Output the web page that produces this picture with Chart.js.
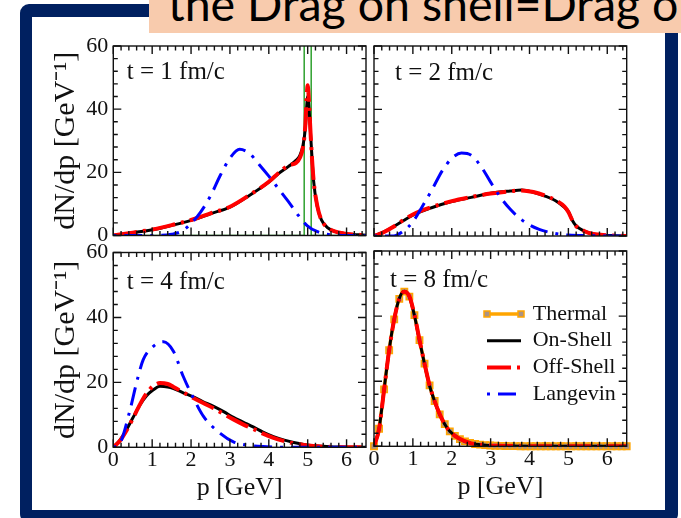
<!DOCTYPE html>
<html>
<head>
<meta charset="utf-8">
<script src="https://cdn.jsdelivr.net/npm/chart.js@4.4.1/dist/chart.umd.min.js"></script>
<style>
  html, body { margin: 0; padding: 0; background: #fff; width: 681px; height: 518px; overflow: hidden; position: relative; }
  .frame { position: absolute; left: 20px; top: 4px; width: 658px; height: 519px; box-sizing: border-box;
           border-style: solid; border-color: #002060; border-width: 13px 13px 13px 12px; border-radius: 9px; background: #fff; }
  .banner { position: absolute; left: 149px; top: -10px; width: 540px; height: 43.3px; background: #f8cbad; overflow: hidden; }
  .banner span { position: absolute; left: 19px; top: -10.5px; font-family: Lato, sans-serif; font-size: 46.5px; line-height: 46.5px;
                 color: #000; white-space: nowrap; }
  canvas { position: absolute; left: 0; top: 0; }
</style>
</head>
<body>
<div class="frame"></div>
<div class="banner"><span>the Drag on shell=Drag of</span></div>
<canvas id="c1" width="681" height="518"></canvas>
<canvas id="c2" width="681" height="518"></canvas>
<canvas id="c3" width="681" height="518"></canvas>
<canvas id="c4" width="681" height="518"></canvas>
<script>
// ---- tick labels ----
const xTickLabels = [0, 1, 2, 3, 4, 5, 6];
const yTickLabels = [0, 20, 40, 60];
const seriesNames = ['Thermal', 'On-Shell', 'Off-Shell', 'Langevin'];
const panelTitles = ['t = 1 fm/c', 't = 2 fm/c', 't = 4 fm/c', 't = 8 fm/c'];

// ---- t = 1 fm/c ----
const pT1 =        [0, 0.5, 1, 1.5, 2, 2.5, 3, 3.5, 4, 4.25, 4.5, 4.7, 4.8, 4.88, 4.94, 4.97, 5.0, 5.03, 5.08, 5.15, 5.25, 5.35, 5.5, 5.7, 6.0, 6.5];
const onShellT1 =  [0, 0.9, 1.8, 3.2, 4.8, 6.9, 9.0, 12.7, 16.9, 19.6, 21.8, 23.8, 25.4, 28.6, 34.0, 40.0, 44.0, 41.0, 31.0, 17.5, 9.0, 5.0, 2.6, 1.3, 0.5, 0.1];
const offShellT1 = [0, 0.9, 1.9, 3.3, 4.9, 7.0, 9.1, 12.8, 17.0, 19.8, 22.2, 23.0, 24.6, 28.0, 35.0, 43.0, 47.6, 43.0, 31.0, 17.8, 9.2, 5.0, 2.6, 1.3, 0.5, 0.1];
const pLangT1 =    [0, 1.0, 1.5, 1.75, 2.0, 2.25, 2.5, 2.75, 3.0, 3.25, 3.5, 3.75, 4.0, 4.25, 4.5, 4.75, 5.0, 5.25, 5.5, 6.0, 6.5];
const langevinT1 = [0, 0, 0.4, 1.3, 3.8, 7.5, 12.5, 19.0, 24.5, 27.3, 26.0, 22.5, 18.8, 14.8, 10.8, 6.5, 3.0, 1.2, 0.4, 0, 0];
const pInitT1 =    [0, 4.91, 4.91, 5.09, 5.09, 6.5];
const initialT1 =  [0, 0, 80, 80, 0, 0];

// ---- t = 2 fm/c ----
const pT2 =        [0, 0.25, 0.5, 0.75, 1, 1.5, 2, 2.5, 3, 3.5, 3.8, 4.1, 4.4, 4.7, 4.9, 5.0, 5.1, 5.2, 5.4, 5.6, 5.9, 6.2, 6.5];
const onShellT2 =  [0, 1.3, 2.9, 4.8, 6.6, 9.0, 10.9, 12.2, 13.5, 14.2, 14.5, 13.8, 12.6, 10.9, 9.0, 7.7, 5.0, 3.2, 1.6, 0.7, 0.2, 0.1, 0];
const offShellT2 = [0, 1.2, 2.9, 5.0, 6.8, 9.2, 11.0, 12.3, 13.4, 14.1, 14.4, 13.9, 12.8, 11.1, 9.3, 7.6, 5.0, 3.1, 1.6, 0.7, 0.3, 0.1, 0];
const pLangT2 =    [0, 0.5, 0.75, 1.0, 1.25, 1.5, 1.75, 2.0, 2.25, 2.5, 2.75, 3.0, 3.25, 3.5, 3.75, 4.0, 4.25, 4.5, 4.75, 5.0, 5.5, 6.5];
const langevinT2 = [0, 0, 1.5, 4.5, 9.5, 14.8, 20.5, 24.5, 26.2, 25.5, 22.0, 17.0, 12.3, 8.5, 5.6, 3.5, 2.1, 1.2, 0.6, 0.3, 0.1, 0];

// ---- t = 4 fm/c ----
const pT4 =        [0, 0.17, 0.34, 0.5, 0.69, 0.85, 1.03, 1.2, 1.4, 1.55, 1.8, 2.06, 2.3, 2.58, 2.85, 3.09, 3.35, 3.61, 3.85, 4.12, 4.4, 4.64, 4.9, 5.15, 5.4, 5.67, 6.0, 6.5];
const onShellT4 =  [0, 2.2, 5.4, 9.0, 13.1, 15.8, 17.7, 18.8, 18.6, 18.1, 16.8, 15.5, 14.1, 12.6, 10.9, 9.2, 7.7, 6.2, 4.7, 3.3, 2.2, 1.5, 0.9, 0.5, 0.3, 0.1, 0.05, 0];
const offShellT4 = [0, 2.0, 5.2, 8.8, 13.3, 16.5, 18.9, 19.8, 19.5, 18.6, 16.9, 15.2, 13.7, 12.0, 10.2, 8.6, 7.0, 5.6, 4.2, 2.9, 1.9, 1.2, 0.7, 0.4, 0.2, 0.1, 0, 0];
const pLangT4 =    [0, 0.17, 0.43, 0.6, 0.77, 1.03, 1.29, 1.55, 1.8, 2.06, 2.32, 2.75, 3.09, 3.43, 3.95, 4.5, 6.5];
const langevinT4 = [0, 1.2, 11.5, 20.0, 27.0, 31.1, 32.5, 29.5, 21.8, 15.2, 9.5, 4.3, 1.7, 0.7, 0.2, 0, 0];

// ---- t = 8 fm/c ----
const pT8 = [0, 0.13, 0.26, 0.39, 0.52, 0.65, 0.78, 0.91, 1.04, 1.17, 1.30, 1.43, 1.56, 1.69, 1.82, 1.95, 2.08,
             2.21, 2.34, 2.47, 2.60, 2.73, 2.86, 2.99, 3.12, 3.25, 3.38, 3.51, 3.64, 3.77, 3.90, 4.03, 4.16,
             4.29, 4.42, 4.55, 4.68, 4.81, 4.94, 5.07, 5.20, 5.33, 5.46, 5.59, 5.72, 5.85, 5.98, 6.11, 6.24, 6.37, 6.50];
const thermalT8 = [0, 5.4, 17.5, 29.5, 39.0, 45.3, 47.5, 46.0, 40.3, 32.6, 25.4, 18.7, 13.9, 9.8, 6.8, 4.6, 3.2,
                   2.2, 1.5, 1.0, 0.7, 0.5, 0.35, 0.25, 0.17, 0.12, 0.08, 0.05, 0.04, 0.03, 0.02, 0.01, 0.01,
                   0.01, 0, 0, 0, 0, 0, 0, 0, 0, 0, 0, 0, 0, 0, 0, 0, 0, 0];
const pCurveT8 =   [0, 0.13, 0.26, 0.39, 0.52, 0.65, 0.78, 0.91, 1.04, 1.17, 1.30, 1.43, 1.56, 1.69, 1.82, 1.95, 2.2, 2.5, 2.8, 3.2, 4.0, 5.0, 6.5];
const onShellT8 =  [0, 5.4, 17.6, 29.6, 39.1, 45.4, 47.6, 46.0, 40.2, 32.5, 25.3, 18.6, 13.8, 9.8, 6.8, 4.6, 2.3, 0.9, 0.4, 0.15, 0.02, 0, 0];
const offShellT8 = [0, 5.3, 17.4, 29.5, 39.0, 45.3, 47.5, 46.1, 40.4, 32.7, 25.4, 18.7, 13.9, 9.9, 6.8, 4.6, 2.3, 0.9, 0.4, 0.15, 0.02, 0, 0];

function pts(xs, ys) { return xs.map((x, i) => ({ x: x, y: ys[i] })); }

const FONT = 'Liberation Serif';
const INK = '#111';

const style = {
  thermal:  { borderColor: '#ffa500', borderWidth: 3.5, pointStyle: 'rect', pointRadius: 4.5,
              pointBackgroundColor: '#ab9383', pointBorderColor: '#ffa500', pointBorderWidth: 1.5, clip: 6 },
  onShell:  { borderColor: '#000000', borderWidth: 3, pointRadius: 0, borderDash: [] },
  offShell: { borderColor: '#ff0000', borderWidth: 4, pointRadius: 0, borderDash: [24, 6, 3, 6] },
  langevin: { borderColor: '#0000ff', borderWidth: 3, pointRadius: 0, borderDash: [3, 8, 18, 8] },
  initial:  { borderColor: '#1f9a1f', borderWidth: 1.4, pointRadius: 0, borderDash: [] }
};

function series(key, xs, ys, extra) {
  return Object.assign({ data: pts(xs, ys), cubicInterpolationMode: 'monotone', fill: false,
                         borderCapStyle: 'butt', borderJoinStyle: 'round' }, style[key], extra || {});
}

// frame, inward ticks on four sides, panel caption and (optionally) the key
const panelDecor = {
  id: 'panelDecor',
  afterDraw(chart, _args, o) {
    const { ctx, chartArea: a } = chart;
    const xs = chart.scales.x, ys = chart.scales.y;
    ctx.save();
    ctx.strokeStyle = INK;
    ctx.lineWidth = 1.4;
    ctx.setLineDash([]);
    ctx.beginPath();
    for (let i = 0; i <= 32; i++) {
      const px = xs.getPixelForValue(i * 0.2);
      const len = i % 5 === 0 ? 8 : 4.5;
      ctx.moveTo(px, a.bottom); ctx.lineTo(px, a.bottom - len);
      ctx.moveTo(px, a.top); ctx.lineTo(px, a.top + len);
    }
    for (let i = 0; i <= 15; i++) {
      const py = ys.getPixelForValue(i * 4);
      const len = i % 5 === 0 ? 8 : 4.5;
      ctx.moveTo(a.left, py); ctx.lineTo(a.left + len, py);
      ctx.moveTo(a.right, py); ctx.lineTo(a.right - len, py);
    }
    ctx.stroke();
    ctx.strokeRect(a.left, a.top, a.right - a.left, a.bottom - a.top);

    ctx.fillStyle = INK;
    ctx.font = '25px "' + FONT + '"';
    ctx.textBaseline = 'alphabetic';
    ctx.textAlign = 'left';
    ctx.fillText(o.caption, a.left + o.capX, a.top + o.capY);

    if (o.key) {
      const k = o.key;
      const keyStyles = [style.thermal, style.onShell, style.offShell, style.langevin];
      ctx.font = '22px "' + FONT + '"';
      ctx.textBaseline = 'middle';
      seriesNames.forEach((name, i) => {
        const s = keyStyles[i];
        const y = a.top + k.top + i * k.gap;
        const x0 = a.left + k.left, x1 = x0 + k.len;
        ctx.save();
        ctx.strokeStyle = s.borderColor;
        ctx.lineWidth = s.borderWidth;
        ctx.lineCap = 'butt';
        ctx.setLineDash(s.borderDash || []);
        ctx.beginPath(); ctx.moveTo(x0, y); ctx.lineTo(x1, y); ctx.stroke();
        if (s.pointStyle === 'rect') {
          ctx.setLineDash([]);
          ctx.fillStyle = s.pointBackgroundColor;
          ctx.strokeStyle = s.pointBorderColor;
          ctx.lineWidth = s.pointBorderWidth;
          [x0, x1].forEach(xx => { ctx.beginPath(); ctx.rect(xx - 3, y - 3, 6, 6); ctx.fill(); ctx.stroke(); });
        }
        ctx.restore();
        ctx.fillStyle = INK;
        ctx.fillText(name, a.left + k.textX, y);
      });
    }
    ctx.restore();
  }
};

function makeChart(id, datasets, cfg) {
  const tickFont = { family: FONT, size: 22 };
  return new Chart(document.getElementById(id), {
    type: 'line',
    data: { datasets: datasets },
    options: {
      responsive: false,
      animation: false,
      devicePixelRatio: 1,
      events: [],
      layout: { padding: cfg.padding },
      plugins: {
        legend: { display: false },
        tooltip: { enabled: false },
        panelDecor: { caption: cfg.caption, capX: cfg.capX, capY: cfg.capY, key: cfg.key || null }
      },
      scales: {
        x: {
          type: 'linear', min: 0, max: 6.5, position: 'bottom',
          display: cfg.showX,
          grid: { display: false, drawTicks: false }, border: { display: false },
          afterBuildTicks: s => { s.ticks = xTickLabels.map(v => ({ value: v })); },
          afterFit: s => { s.height = cfg.showX ? cfg.xHeight : 0; },
          ticks: { autoSkip: false, maxRotation: 0, minRotation: 0, padding: 0, color: INK, font: tickFont },
          title: { display: true, text: 'p [GeV]', padding: 0, color: INK, font: { family: FONT, size: 26 } }
        },
        y: {
          type: 'linear', min: 0, max: 60, position: 'left',
          display: cfg.showY,
          grid: { display: false, drawTicks: false }, border: { display: false },
          afterBuildTicks: s => { s.ticks = yTickLabels.map(v => ({ value: v })); },
          afterFit: s => { s.width = cfg.showY ? cfg.yWidth : 0; },
          ticks: { autoSkip: false, padding: 5, color: INK, font: tickFont },
          title: { display: true, text: 'dN/dp [GeV\u207B\u00B9]', padding: 0, color: INK, font: { family: FONT, size: 30 } }
        }
      }
    },
    plugins: [panelDecor]
  });
}

// first dataset is painted on top
makeChart('c1', [
  series('langevin', pLangT1, langevinT1),
  series('offShell', pT1, offShellT1),
  series('onShell', pT1, onShellT1),
  series('initial', pInitT1, initialT1, { cubicInterpolationMode: 'default', tension: 0 })
], { padding: { left: 48.6, top: 46, right: 315, bottom: 282.5 }, showX: false, showY: true, yWidth: 64.7,
     caption: panelTitles[0], capX: 13.5, capY: 33 });

makeChart('c2', [
  series('langevin', pLangT2, langevinT2),
  series('offShell', pT2, offShellT2),
  series('onShell', pT2, onShellT2)
], { padding: { left: 374, top: 46, right: 54.3, bottom: 282 }, showX: false, showY: false,
     caption: panelTitles[1], capX: 21, capY: 34 });

makeChart('c3', [
  series('langevin', pLangT4, langevinT4),
  series('offShell', pT4, offShellT4),
  series('onShell', pT4, onShellT4)
], { padding: { left: 48.6, top: 252.5, right: 315, bottom: 14.7 }, showX: true, xHeight: 56, showY: true, yWidth: 64.7,
     caption: panelTitles[2], capX: 13.5, capY: 36 });

makeChart('c4', [
  series('offShell', pCurveT8, offShellT8),
  series('onShell', pCurveT8, onShellT8),
  series('thermal', pT8, thermalT8)
], { padding: { left: 374, top: 251, right: 54.3, bottom: 15.7 }, showX: true, xHeight: 56, showY: false,
     caption: panelTitles[3], capX: 16, capY: 36,
     key: { left: 113, len: 34, textX: 158.7, top: 63, gap: 26.7 } });
</script>
</body>
</html>
